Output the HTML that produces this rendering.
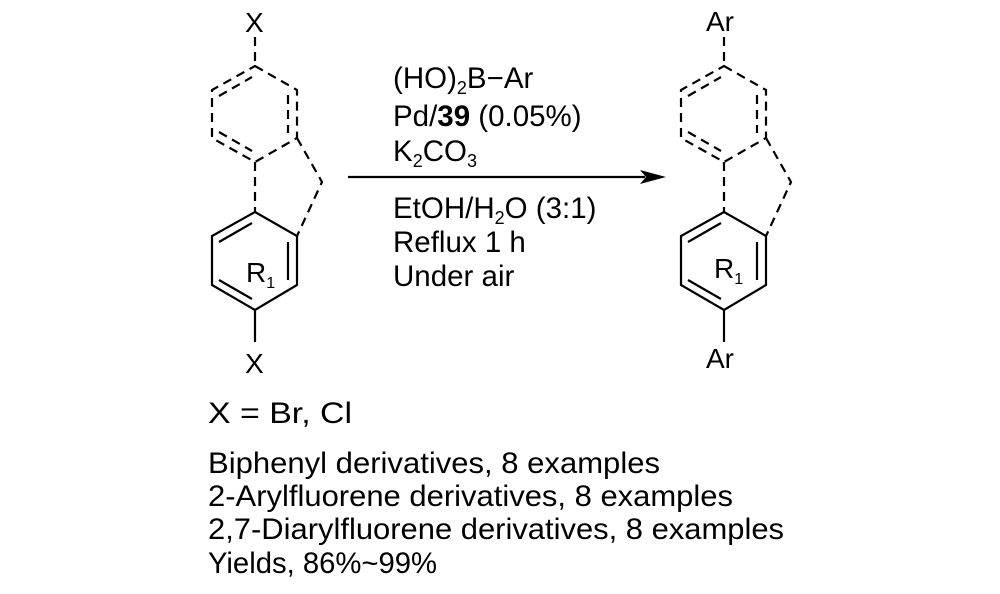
<!DOCTYPE html>
<html><head><meta charset="utf-8"><style>body{margin:0;background:#fff}svg{display:block}</style></head>
<body>
<svg width="1000" height="594" viewBox="0 0 1000 594" xmlns="http://www.w3.org/2000/svg" font-family="Liberation Sans, Arial, sans-serif" fill="#000">
<defs>
<g id="mol" stroke="#000" stroke-width="2.2" fill="none">
  <g stroke-dasharray="9,6">
    <line x1="255" y1="37" x2="255" y2="66"/>
    <polygon points="255,66 297,90 297,138 255,162 212,138 212,90"/>
    <line x1="219" y1="96" x2="252" y2="77"/>
    <line x1="288" y1="95" x2="288" y2="133"/>
    <line x1="219" y1="132" x2="252" y2="151"/>
    <line x1="255" y1="162" x2="255" y2="212"/>
    <polyline points="297,138 322,182 297,236"/>
  </g>
  <polygon points="255,212 297,236 297,285 255,310 212,285 212,236"/>
  <line x1="219" y1="242" x2="252" y2="223"/>
  <line x1="288" y1="242" x2="288" y2="280"/>
  <line x1="219" y1="280" x2="252" y2="299"/>
  <line x1="255" y1="310" x2="255" y2="342"/>
</g>
</defs>
<use href="#mol"/>
<use href="#mol" transform="translate(469,0)"/>
<g font-size="28">
<text x="245" y="32">X</text>
<text x="245" y="373">X</text>
<text x="246" y="282">R<tspan font-size="16" dy="6">1</tspan></text>
<text x="706" y="31">Ar</text>
<text x="706" y="368">Ar</text>
<text x="714" y="278">R<tspan font-size="16" dy="6">1</tspan></text>
</g>
<line x1="348" y1="177" x2="645" y2="177" stroke="#000" stroke-width="2.2"/>
<polygon points="666,177 640,170 646,177 640,184" fill="#000"/>
<g font-size="29.5">
<text x="393" y="88">(HO)<tspan font-size="18" dy="6">2</tspan><tspan dy="-6">B−Ar</tspan></text>
<text x="393" y="126">Pd/<tspan font-weight="bold">39</tspan> (0.05%)</text>
<text x="393" y="161">K<tspan font-size="18" dy="6">2</tspan><tspan dy="-6">CO</tspan><tspan font-size="18" dy="6">3</tspan></text>
<text x="393" y="218">EtOH/H<tspan font-size="18" dy="6">2</tspan><tspan dy="-6">O (3:1)</tspan></text>
<text x="393" y="252">Reflux 1 h</text>
<text x="393" y="286">Under air</text>
</g>
<g font-size="30">
<text x="208" y="423" textLength="144" lengthAdjust="spacingAndGlyphs">X = Br, Cl</text>
<text x="208" y="473" textLength="452" lengthAdjust="spacingAndGlyphs">Biphenyl derivatives, 8 examples</text>
<text x="208" y="506" textLength="525" lengthAdjust="spacingAndGlyphs">2-Arylfluorene derivatives, 8 examples</text>
<text x="208" y="539" textLength="576" lengthAdjust="spacingAndGlyphs">2,7-Diarylfluorene derivatives, 8 examples</text>
<text x="208" y="573" textLength="229" lengthAdjust="spacingAndGlyphs">Yields, 86%~99%</text>
</g>
</svg>
</body></html>
